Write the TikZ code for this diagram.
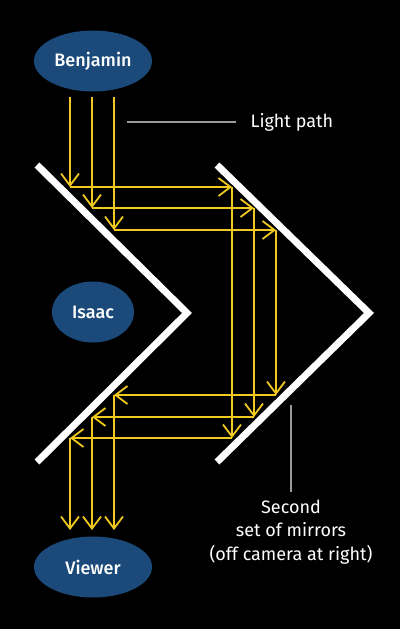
\documentclass[tikz,border=0pt]{standalone}
\usepackage{fontspec}
\setmainfont{Fira Sans}[BoldFont={Fira Sans Medium}]
\usetikzlibrary{shapes.geometric,arrows.meta}
\definecolor{rayyellow}{HTML}{F2C91E}
\definecolor{nameblue}{HTML}{1B4A7A}
\definecolor{leadgray}{HTML}{9A9A9A}
\begin{document}
\begin{tikzpicture}[x=1pt,y=-1pt,
        person/.style={ellipse,fill=nameblue,text=white,inner sep=0pt,minimum height=61pt,
            font=\bfseries\fontsize{18}{20}\selectfont},
        mirror/.style={white,line width=7pt,miter limit=10},
        ray/.style={rayyellow,line width=1.8pt,-{Straight Barb[length=12pt,width=18pt]}},
        leader/.style={leadgray,line width=1.5pt},
        note/.style={white,align=center,font=\fontsize{18}{23.5}\selectfont}]
    \fill[black] (0,0) rectangle (400,629);
    % people
    \node[person,minimum width=118pt] (benjamin) at (93,61) {Benjamin};
    \node[person,minimum width=82pt] (isaac) at (93,312) {Isaac};
    \node[person,minimum width=118pt] (viewer) at (93,567) {Viewer};
    % mirrors
    \draw[mirror] (37,165) -- (187,313) -- (37,462);
    \draw[mirror] (217,165) -- (369,313) -- (217,462);
    % light rays
    \foreach \xa/\ya/\xb [count=\i] in {70/187/232, 92/208/254, 114/230/276} {
        \pgfmathtruncatemacro\yb{625-\ya}
        \coordinate (in\i) at (\xa,97);
        \coordinate (hit\i) at (\xa,\ya);
        \coordinate (turn\i) at (\xb,\ya);
        \coordinate (back\i) at (\xb,\yb);
        \coordinate (out\i) at (\xa,\yb);
        \coordinate (end\i) at (\xa,530);
        \draw[ray] (in\i) -- (hit\i);
        \draw[ray] (hit\i) -- (turn\i);
        \draw[ray] (turn\i) -- (back\i);
        \draw[ray] (back\i) -- (out\i);
        \draw[ray] (out\i) -- (end\i);
    }
    % labels
    \node[note,anchor=west] (lightpath) at (247,122) {Light path};
    \coordinate (lp) at (127,122);
    \draw[leader] (lp) -- (lightpath.west -| 236,0);
    \node[note,anchor=north] (second) at (291,496) {Second\\set of mirrors\\(off camera at right)};
    \coordinate (sm) at (291,405);
    \draw[leader] (sm) -- (291,492);
\end{tikzpicture}
\end{document}
